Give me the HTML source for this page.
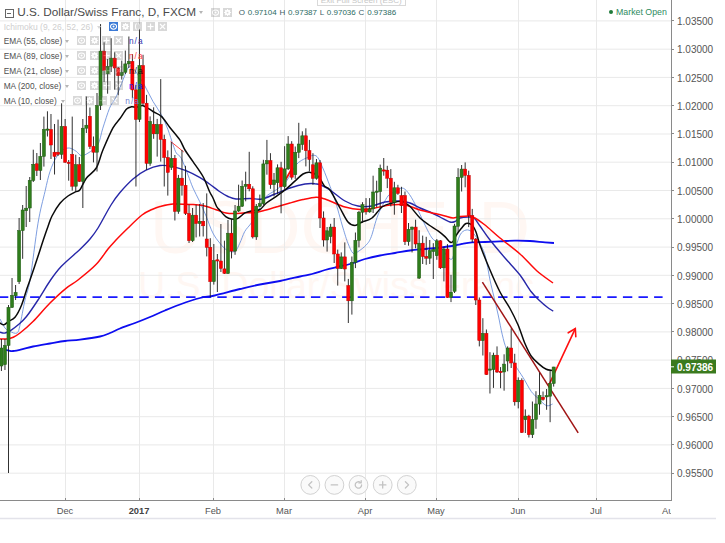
<!DOCTYPE html>
<html><head><meta charset="utf-8"><title>USDCHF</title>
<style>
html,body{margin:0;padding:0;background:#fff}
#w{position:relative;width:725px;height:543px;overflow:hidden;background:#fff;font-family:"Liberation Sans",Arial,sans-serif}
.ttl{position:absolute;left:0;top:0;height:20px;white-space:nowrap}
.box{position:absolute;left:4.5px;top:8.5px;width:7px;height:7px;border:1px solid #666;box-sizing:content-box;background:#fff}
.box:after{content:"";position:absolute;left:1.5px;right:1.5px;top:3px;height:1px;background:#666}
.tt{position:absolute;left:17.2px;top:5.4px;font-size:11.75px;color:#4a4a4a;line-height:14px;letter-spacing:0px}
.arr{position:absolute;width:0;height:0;border-left:2.6px solid transparent;border-right:2.6px solid transparent;border-top:3px solid #b5b5b5}
.arr.dis{border-top-color:#d8d8d8}
.ohlc{position:absolute;left:238.7px;top:7.2px;font-size:8.0px;line-height:11px;color:#2a6a62;white-space:nowrap;word-spacing:0.6px}
.ohlc .k{color:#3d5d66}
.tip{position:absolute;left:317px;top:-9.2px;width:86.5px;height:10px;padding-top:3px;border:1px solid #d9d9d9;background:#fff;color:#c6c6c6;font-size:8.1px;line-height:11px;text-align:center;white-space:nowrap;box-sizing:content-box}
.mo{position:absolute;left:616px;top:6.5px;font-size:8.8px;line-height:11px;color:#2e8b60;white-space:nowrap}
.dot{position:absolute;left:-7.2px;top:3.5px;width:4.4px;height:4.4px;border-radius:50%;background:#1f7a3a}
.row{position:absolute;left:0;height:14px;background:rgba(255,255,255,0.72)}
.lt{position:absolute;left:3.7px;font-size:8.3px;line-height:12px;color:#4f4f4f;white-space:nowrap}
.lt.dis{color:#cfcfcf}
.ib{position:absolute;width:9.1px;height:9.1px;display:block;opacity:.25}
.ib.act{opacity:1}
.ib.sm{width:7.5px;height:7.5px}
.ib.sm svg{width:7.5px;height:7.5px}
.ib svg{display:block}
.na{position:absolute;font-size:8.3px;line-height:12px;white-space:nowrap;letter-spacing:1px;margin-top:.5px}
</style></head><body><div id="w">
<svg width="725" height="543" viewBox="0 0 725 543" style="position:absolute;left:0;top:0" font-family="Liberation Sans, Arial, sans-serif">
<rect width="725" height="543" fill="#fff"/>
<g fill="#fff7f3"><text x="150" y="252.5" font-size="74" textLength="380" lengthAdjust="spacingAndGlyphs">USDCHF, D</text><text x="336" y="298" font-size="37.5" text-anchor="middle">U.S. Dollar/Swiss Franc</text></g>
<g stroke="#e9e9e9" stroke-width="1">
<line x1="0" x2="671" y1="20.9" y2="20.9"/>
<line x1="0" x2="671" y1="49.2" y2="49.2"/>
<line x1="0" x2="671" y1="77.4" y2="77.4"/>
<line x1="0" x2="671" y1="105.7" y2="105.7"/>
<line x1="0" x2="671" y1="134.0" y2="134.0"/>
<line x1="0" x2="671" y1="162.2" y2="162.2"/>
<line x1="0" x2="671" y1="190.5" y2="190.5"/>
<line x1="0" x2="671" y1="218.8" y2="218.8"/>
<line x1="0" x2="671" y1="247.1" y2="247.1"/>
<line x1="0" x2="671" y1="275.3" y2="275.3"/>
<line x1="0" x2="671" y1="303.6" y2="303.6"/>
<line x1="0" x2="671" y1="331.9" y2="331.9"/>
<line x1="0" x2="671" y1="360.1" y2="360.1"/>
<line x1="0" x2="671" y1="388.4" y2="388.4"/>
<line x1="0" x2="671" y1="416.7" y2="416.7"/>
<line x1="0" x2="671" y1="444.9" y2="444.9"/>
<line x1="0" x2="671" y1="473.2" y2="473.2"/>
<line x1="65.5" x2="65.5" y1="0" y2="501"/>
<line x1="139.5" x2="139.5" y1="0" y2="501"/>
<line x1="213.5" x2="213.5" y1="0" y2="501"/>
<line x1="284.5" x2="284.5" y1="0" y2="501"/>
<line x1="365.5" x2="365.5" y1="0" y2="501"/>
<line x1="436.5" x2="436.5" y1="0" y2="501"/>
<line x1="518.5" x2="518.5" y1="0" y2="501"/>
<line x1="596.5" x2="596.5" y1="0" y2="501"/>
</g>
<line x1="0" x2="662.6" y1="297.2" y2="297.2" stroke="#1a1aff" stroke-width="1.75" stroke-dasharray="9.4 6.2" stroke-dashoffset="1.1"/>
<path d="M0.0 319.0 C0.8 320.5 3.3 325.9 5.0 328.0 C6.7 330.1 8.0 330.7 10.0 331.5 C12.0 332.3 15.3 334.1 17.0 333.0 C18.7 331.9 18.7 330.5 20.0 325.0 C21.3 319.5 23.3 307.5 25.0 300.0 C26.7 292.5 27.8 292.8 30.0 280.0 C32.2 267.2 35.5 237.9 38.0 223.2 C40.5 208.4 43.0 200.1 45.0 191.5 C47.0 182.9 48.1 177.2 50.0 171.5 C51.9 165.8 54.3 160.6 56.5 157.0 C58.7 153.4 60.8 151.3 63.0 149.8 C65.2 148.3 67.5 147.8 69.7 148.1 C71.9 148.4 74.4 150.2 76.3 151.4 C78.2 152.7 79.3 155.3 81.3 155.6 C83.2 155.9 85.2 154.9 88.0 153.1 C90.8 151.3 95.3 149.0 97.8 144.8 C100.3 140.7 100.8 134.3 102.8 128.2 C104.8 122.1 107.6 113.0 109.5 108.3 C111.4 103.6 112.9 102.7 114.4 100.0 C115.9 97.3 116.6 96.1 118.3 92.0 C120.0 87.9 123.1 79.5 124.7 75.5 C126.3 71.5 127.0 69.6 128.0 68.0 C129.1 66.4 129.7 65.3 131.0 66.0 C132.3 66.7 133.7 68.7 136.0 72.0 C138.3 75.3 142.0 80.9 144.8 85.8 C147.6 90.7 150.2 96.7 153.0 101.5 C155.8 106.3 158.9 110.1 161.4 114.8 C163.9 119.5 166.1 124.7 168.0 129.7 C169.9 134.7 171.6 140.7 173.0 144.6 C174.4 148.5 174.9 150.7 176.3 153.0 C177.7 155.3 179.4 154.6 181.3 158.3 C183.2 162.0 186.1 170.1 188.0 175.0 C189.9 179.9 191.1 183.6 193.0 188.0 C194.9 192.4 197.4 196.7 199.6 201.4 C201.8 206.1 204.0 211.1 206.2 216.3 C208.4 221.6 210.5 228.4 212.8 232.9 C215.1 237.4 217.6 240.4 219.9 243.2 C222.2 246.0 224.0 248.4 226.5 249.8 C229.0 251.2 232.6 252.6 234.8 251.5 C237.0 250.4 238.2 246.5 239.8 243.2 C241.5 239.9 242.9 234.8 244.7 231.6 C246.5 228.4 248.4 227.0 250.5 224.1 C252.6 221.2 254.6 218.3 257.0 214.0 C259.4 209.7 261.5 202.1 264.7 198.0 C267.9 193.9 272.7 192.5 276.3 189.7 C279.9 186.9 283.0 185.6 286.3 181.4 C289.6 177.2 292.9 168.7 296.2 164.8 C299.5 160.9 302.9 159.6 306.2 158.1 C309.5 156.6 313.2 154.2 316.0 155.8 C318.8 157.5 320.5 162.9 322.8 168.0 C325.1 173.1 328.0 181.0 330.0 186.3 C332.0 191.6 332.8 193.1 335.0 200.0 C337.2 206.9 340.8 220.8 343.0 228.0 C345.2 235.2 346.3 239.1 348.0 243.3 C349.7 247.5 351.3 251.8 353.0 253.2 C354.7 254.6 355.8 253.0 358.0 251.6 C360.2 250.2 364.1 247.4 366.3 244.9 C368.5 242.4 369.4 241.6 371.3 236.6 C373.2 231.6 375.2 221.8 378.0 215.0 C380.8 208.2 385.2 199.8 388.0 196.0 C390.8 192.2 392.7 193.3 395.0 192.0 C397.3 190.7 399.8 187.9 402.0 188.0 C404.2 188.1 405.8 189.8 408.0 192.5 C410.2 195.2 412.2 198.6 415.0 204.0 C417.8 209.4 422.2 219.3 425.0 225.0 C427.8 230.7 429.8 235.0 432.0 238.0 C434.2 241.0 436.2 241.0 438.0 243.0 C439.8 245.0 441.3 247.7 443.0 250.0 C444.7 252.3 446.5 255.5 448.0 257.0 C449.5 258.5 450.8 260.2 452.0 259.0 C453.2 257.8 453.7 254.0 455.0 250.0 C456.3 246.0 458.2 238.3 460.0 235.0 C461.8 231.7 464.0 230.5 466.0 230.0 C468.0 229.5 470.0 230.3 472.0 232.0 C474.0 233.7 475.8 236.2 478.0 240.0 C480.2 243.8 483.0 248.3 485.0 255.0 C487.0 261.7 488.5 273.0 490.0 280.0 C491.5 287.0 492.6 291.2 494.0 297.0 C495.4 302.8 496.8 308.7 498.2 315.0 C499.6 321.3 500.9 329.2 502.3 334.8 C503.7 340.4 504.4 343.9 506.5 348.9 C508.6 353.9 512.0 359.9 514.8 364.6 C517.5 369.4 520.2 372.9 523.0 377.4 C525.8 381.9 528.8 388.0 531.3 391.5 C533.8 395.0 535.5 395.8 538.0 398.2 C540.5 400.6 543.9 404.6 546.3 405.6 C548.7 406.6 551.5 404.3 552.6 404.0" fill="none" stroke="#6f93dc" stroke-width="0.9"/>
<path d="M6.0 350.0 C6.5 350.1 7.8 350.4 9.0 350.6 C10.2 350.8 10.9 351.2 13.0 351.0 C15.1 350.8 18.3 350.1 21.6 349.3 C24.9 348.6 28.3 347.5 33.0 346.5 C37.7 345.5 44.7 344.4 50.0 343.5 C55.3 342.6 60.0 341.6 65.0 341.0 C70.0 340.4 74.2 340.4 80.0 339.6 C85.8 338.9 95.0 337.6 100.0 336.5 C105.0 335.4 106.7 334.3 110.0 333.0 C113.3 331.7 115.8 330.2 120.0 328.5 C124.2 326.8 130.0 324.9 135.0 323.0 C140.0 321.1 145.0 319.1 150.0 317.0 C155.0 314.9 160.0 312.6 165.0 310.5 C170.0 308.4 174.2 306.6 180.0 304.5 C185.8 302.4 194.2 299.5 200.0 298.0 C205.8 296.5 208.0 297.0 214.7 295.5 C221.4 294.0 232.4 290.8 240.0 289.0 C247.6 287.2 253.3 285.8 260.0 284.5 C266.7 283.2 273.3 282.3 280.0 281.0 C286.7 279.7 294.7 277.7 300.0 276.5 C305.3 275.3 307.8 275.1 312.0 274.0 C316.2 272.9 320.8 271.2 325.0 270.0 C329.2 268.8 332.8 268.0 337.0 267.0 C341.2 266.0 345.3 265.3 350.0 264.0 C354.7 262.7 360.0 260.4 365.0 259.0 C370.0 257.6 375.0 256.5 380.0 255.5 C385.0 254.5 390.0 253.8 395.0 253.0 C400.0 252.2 405.0 251.2 410.0 250.5 C415.0 249.8 420.0 249.5 425.0 249.0 C430.0 248.5 435.5 248.0 440.0 247.5 C444.5 247.0 448.3 246.6 452.0 246.0 C455.7 245.4 458.7 244.4 462.0 243.8 C465.3 243.2 468.2 242.6 472.0 242.3 C475.8 242.0 480.3 242.2 485.0 242.0 C489.7 241.8 495.0 241.5 500.0 241.3 C505.0 241.1 510.0 240.7 515.0 240.6 C520.0 240.5 525.0 240.7 530.0 241.0 C535.0 241.3 541.0 242.0 545.0 242.3 C549.0 242.6 552.5 242.9 554.0 243.0" fill="none" stroke="#0d0df0" stroke-width="1.8"/>
<path d="M0.0 332.2 C0.8 332.3 3.1 333.4 5.0 333.0 C6.9 332.6 9.4 331.2 11.6 329.8 C13.8 328.4 15.7 327.0 18.2 324.8 C20.7 322.6 23.2 320.6 26.5 316.5 C29.8 312.4 34.0 306.1 38.0 300.0 C42.0 293.9 46.7 285.6 50.6 280.0 C54.5 274.4 56.6 271.4 61.4 266.3 C66.2 261.2 74.8 254.2 79.6 249.7 C84.4 245.1 86.9 242.6 90.0 239.0 C93.1 235.4 94.5 233.7 98.0 228.0 C101.5 222.3 107.3 210.9 111.0 205.0 C114.7 199.1 116.3 196.8 120.0 192.5 C123.7 188.2 128.7 182.7 133.0 179.0 C137.3 175.3 141.5 172.4 146.0 170.2 C150.5 167.9 155.5 166.1 160.0 165.5 C164.5 164.9 168.7 165.7 173.0 166.6 C177.3 167.5 181.6 168.9 186.0 170.7 C190.4 172.5 195.7 175.2 199.6 177.4 C203.5 179.6 206.2 181.7 209.5 184.0 C212.8 186.3 216.4 189.4 219.5 191.5 C222.6 193.6 225.2 195.2 228.0 196.5 C230.8 197.8 232.3 198.7 236.0 199.0 C239.7 199.3 245.7 198.5 250.0 198.5 C254.3 198.5 257.8 199.8 262.0 199.0 C266.2 198.2 270.3 195.8 275.0 194.0 C279.7 192.2 285.0 189.7 290.0 188.0 C295.0 186.3 300.8 184.7 305.0 184.0 C309.2 183.3 312.2 183.4 315.0 183.7 C317.8 183.9 319.5 184.4 322.0 185.5 C324.5 186.6 326.2 187.4 330.0 190.0 C333.8 192.6 340.3 198.3 345.0 201.0 C349.7 203.7 353.5 205.2 358.0 206.0 C362.5 206.8 367.5 206.7 372.0 206.0 C376.5 205.3 380.3 202.8 385.0 202.0 C389.7 201.2 395.8 200.8 400.0 201.0 C404.2 201.2 406.7 201.8 410.0 203.0 C413.3 204.2 416.7 206.5 420.0 208.0 C423.3 209.5 426.7 210.5 430.0 212.0 C433.3 213.5 436.7 215.3 440.0 217.0 C443.3 218.7 447.5 221.2 450.0 222.0 C452.5 222.8 453.3 222.2 455.0 221.5 C456.7 220.8 457.8 218.8 460.0 218.0 C462.2 217.2 465.7 217.0 468.0 217.0 C470.3 217.0 472.0 216.5 474.0 218.0 C476.0 219.5 477.3 222.3 480.0 226.0 C482.7 229.7 485.8 234.7 490.0 240.0 C494.2 245.3 500.0 252.2 505.0 258.0 C510.0 263.8 515.7 269.4 520.0 275.0 C524.3 280.6 527.7 287.2 531.0 291.5 C534.3 295.8 537.3 298.4 540.0 301.0 C542.7 303.6 544.8 305.3 547.0 307.0 C549.2 308.7 552.2 310.5 553.2 311.2" fill="none" stroke="#2727a8" stroke-width="1.4"/>
<path d="M0.0 339.0 C1.1 339.0 4.4 339.2 6.6 338.9 C8.8 338.6 11.1 338.2 13.3 337.2 C15.5 336.2 16.7 335.6 20.0 333.0 C23.3 330.4 28.0 326.5 33.0 321.5 C38.0 316.5 44.5 308.5 50.0 303.0 C55.5 297.5 61.3 292.1 66.0 288.3 C70.7 284.5 73.0 283.9 78.0 280.0 C83.0 276.1 91.0 269.8 96.0 264.6 C101.0 259.4 104.7 253.1 108.0 249.0 C111.3 244.9 112.7 243.5 116.0 240.0 C119.3 236.5 123.7 232.2 128.0 228.0 C132.3 223.8 138.0 218.1 142.0 215.0 C146.0 211.9 149.0 210.9 152.0 209.5 C155.0 208.1 156.5 207.4 160.0 206.5 C163.5 205.6 168.0 204.3 173.0 204.0 C178.0 203.7 185.0 204.1 190.0 204.4 C195.0 204.7 198.7 204.7 203.0 205.6 C207.3 206.5 212.2 208.5 216.0 209.7 C219.8 210.9 222.8 212.3 226.0 213.0 C229.2 213.7 231.8 213.6 235.0 213.6 C238.2 213.6 241.5 213.0 245.0 212.8 C248.5 212.6 252.5 213.0 256.0 212.5 C259.5 212.0 262.3 211.0 266.0 210.0 C269.7 209.0 274.0 207.7 278.0 206.5 C282.0 205.3 285.8 204.2 290.0 203.0 C294.2 201.8 298.7 200.5 303.0 199.6 C307.3 198.7 312.7 197.5 316.0 197.3 C319.3 197.1 320.7 197.9 323.0 198.5 C325.3 199.1 326.3 199.6 330.0 201.0 C333.7 202.4 340.0 205.6 345.0 207.0 C350.0 208.4 355.0 209.3 360.0 209.5 C365.0 209.7 370.0 208.8 375.0 208.0 C380.0 207.2 385.0 205.5 390.0 205.0 C395.0 204.5 400.0 204.2 405.0 205.0 C410.0 205.8 415.0 208.6 420.0 210.0 C425.0 211.4 430.8 212.5 435.0 213.5 C439.2 214.5 442.0 215.2 445.0 216.0 C448.0 216.8 450.5 217.9 453.0 218.0 C455.5 218.1 457.2 216.8 460.0 216.5 C462.8 216.2 467.5 215.8 470.0 216.0 C472.5 216.2 472.5 216.5 475.0 218.0 C477.5 219.5 480.8 221.7 485.0 225.0 C489.2 228.3 494.2 233.2 500.0 238.0 C505.8 242.8 513.8 248.5 520.0 254.0 C526.2 259.5 531.5 266.2 537.0 271.0 C542.5 275.8 550.3 281.0 553.0 283.0" fill="none" stroke="#ff0a0a" stroke-width="1.5"/>
<path d="M0.0 323.0 C0.7 323.3 2.6 325.1 4.0 324.8 C5.4 324.6 6.5 322.8 8.3 321.5 C10.1 320.2 12.8 320.1 15.0 317.3 C17.2 314.6 19.7 309.6 21.6 305.0 C23.5 300.4 25.1 294.2 26.5 290.0 C27.9 285.8 28.1 285.6 30.0 280.0 C31.9 274.4 35.8 263.0 38.0 256.3 C40.2 249.6 41.6 245.0 43.3 240.0 C45.0 235.0 46.5 230.5 48.0 226.5 C49.5 222.5 50.0 219.9 52.0 216.0 C54.0 212.1 57.3 206.6 60.0 203.3 C62.7 200.0 65.3 197.9 68.0 196.0 C70.7 194.1 74.0 192.7 76.0 191.7 C78.0 190.7 78.3 192.1 80.0 189.8 C81.7 187.6 83.6 181.8 86.3 178.2 C89.0 174.6 93.5 172.7 96.3 168.0 C99.1 163.3 100.2 156.4 103.0 149.8 C105.8 143.2 110.0 133.4 112.8 128.2 C115.6 123.0 117.7 121.7 120.0 118.5 C122.3 115.3 124.7 111.0 126.6 109.0 C128.5 107.0 129.9 107.1 131.6 106.8 C133.2 106.5 134.6 107.5 136.5 107.3 C138.4 107.1 140.4 105.0 143.2 105.7 C145.9 106.4 150.0 109.7 153.0 111.5 C156.0 113.3 158.6 113.8 161.4 116.4 C164.2 119.0 166.6 123.3 169.7 127.2 C172.8 131.1 177.1 135.9 179.7 139.7 C182.2 143.5 182.8 146.3 185.0 150.0 C187.2 153.7 190.0 157.2 193.0 161.6 C196.0 166.0 200.2 171.5 203.0 176.5 C205.8 181.5 207.8 187.9 209.5 191.5 C211.2 195.1 211.8 195.5 213.0 198.0 C214.2 200.5 215.4 204.4 216.6 206.5 C217.8 208.6 218.5 208.8 220.0 210.5 C221.5 212.2 223.8 215.2 225.7 216.6 C227.6 218.0 229.4 218.8 231.5 219.1 C233.6 219.4 235.8 219.4 238.0 218.3 C240.2 217.2 242.5 214.1 245.0 212.8 C247.5 211.5 250.5 211.1 253.0 210.5 C255.5 209.9 257.8 210.8 260.0 209.5 C262.2 208.2 263.7 205.2 266.4 203.0 C269.1 200.8 273.0 198.7 276.3 196.3 C279.6 193.9 283.2 191.3 286.3 188.8 C289.4 186.3 291.8 183.9 294.6 181.4 C297.4 178.9 300.5 175.5 303.0 174.0 C305.5 172.5 307.0 171.9 309.5 172.2 C312.0 172.5 315.5 173.7 318.0 176.0 C320.5 178.3 322.4 183.7 324.4 186.0 C326.4 188.3 327.4 186.3 330.0 190.0 C332.6 193.7 337.0 202.7 340.0 208.0 C343.0 213.3 345.5 219.1 348.0 222.0 C350.5 224.9 352.7 225.5 355.0 225.5 C357.3 225.5 359.2 223.2 362.0 222.0 C364.8 220.8 368.7 220.5 372.0 218.0 C375.3 215.5 378.7 209.5 382.0 207.0 C385.3 204.5 388.7 203.9 392.0 203.0 C395.3 202.1 399.0 200.9 402.0 201.5 C405.0 202.1 407.0 203.8 410.0 206.5 C413.0 209.2 416.8 214.9 420.0 218.0 C423.2 221.1 426.0 222.9 429.0 225.0 C432.0 227.1 435.3 228.9 438.0 230.8 C440.7 232.7 443.0 234.7 445.0 236.6 C447.0 238.5 448.7 241.2 450.0 242.0 C451.3 242.8 451.9 242.8 453.0 241.6 C454.1 240.4 455.0 237.2 456.4 235.0 C457.8 232.8 459.8 230.2 461.4 228.3 C463.0 226.4 464.2 224.1 466.0 223.5 C467.8 222.9 470.3 223.6 472.0 225.0 C473.7 226.4 474.7 228.7 476.0 232.0 C477.3 235.3 477.7 238.7 480.0 245.0 C482.3 251.3 486.7 262.2 490.0 270.0 C493.3 277.8 496.7 285.6 500.0 292.0 C503.3 298.4 507.0 303.0 510.0 308.5 C513.0 314.0 515.5 319.1 518.0 324.8 C520.5 330.6 522.5 337.8 524.7 343.0 C526.9 348.2 528.8 352.7 531.3 356.3 C533.8 359.9 537.1 362.4 539.6 364.6 C542.1 366.8 544.2 368.3 546.3 369.3 C548.4 370.3 551.0 370.2 552.0 370.4" fill="none" stroke="#0a0a0a" stroke-width="1.5"/>
<line x1="170.5" y1="141.3" x2="183.8" y2="152" stroke="#ff3030" stroke-width="0.9"/>
<line x1="285.5" y1="179.7" x2="291.3" y2="169.7" stroke="#ff0a0a" stroke-width="1.8"/>
<line x1="482.4" y1="282.2" x2="578.2" y2="432.8" stroke="#a01414" stroke-width="1.5"/>
<g stroke="#ff1010" stroke-width="1.6" fill="none" stroke-linecap="round"><line x1="548.6" y1="385.7" x2="575.3" y2="328.6"/><polyline points="568.2,332.8 575.3,328.5 575.8,336.8"/></g>
<line x1="139.48" x2="139.48" y1="18.3" y2="29.5" stroke="#c8c8c8" stroke-width="0.9"/>
<g>
<line x1="1.42" x2="1.42" y1="339.0" y2="371.0" stroke="#1a1a1a" stroke-width="0.9"/>
<line x1="4.96" x2="4.96" y1="339.0" y2="370.0" stroke="#1a1a1a" stroke-width="0.9"/>
<line x1="8.50" x2="8.50" y1="305.0" y2="473.0" stroke="#1a1a1a" stroke-width="0.9"/>
<line x1="12.04" x2="12.04" y1="278.0" y2="308.0" stroke="#1a1a1a" stroke-width="0.9"/>
<line x1="15.58" x2="15.58" y1="285.0" y2="300.0" stroke="#1a1a1a" stroke-width="0.9"/>
<line x1="19.12" x2="19.12" y1="218.0" y2="284.0" stroke="#1a1a1a" stroke-width="0.9"/>
<line x1="22.66" x2="22.66" y1="205.0" y2="258.8" stroke="#1a1a1a" stroke-width="0.9"/>
<line x1="26.20" x2="26.20" y1="186.0" y2="227.0" stroke="#1a1a1a" stroke-width="0.9"/>
<line x1="29.74" x2="29.74" y1="177.0" y2="222.0" stroke="#1a1a1a" stroke-width="0.9"/>
<line x1="33.28" x2="33.28" y1="149.7" y2="182.0" stroke="#1a1a1a" stroke-width="0.9"/>
<line x1="36.82" x2="36.82" y1="153.0" y2="176.0" stroke="#1a1a1a" stroke-width="0.9"/>
<line x1="40.36" x2="40.36" y1="143.0" y2="180.0" stroke="#1a1a1a" stroke-width="0.9"/>
<line x1="43.90" x2="43.90" y1="116.6" y2="166.6" stroke="#1a1a1a" stroke-width="0.9"/>
<line x1="47.44" x2="47.44" y1="111.3" y2="136.5" stroke="#1a1a1a" stroke-width="0.9"/>
<line x1="50.98" x2="50.98" y1="114.0" y2="159.0" stroke="#1a1a1a" stroke-width="0.9"/>
<line x1="54.52" x2="54.52" y1="124.0" y2="174.5" stroke="#1a1a1a" stroke-width="0.9"/>
<line x1="58.06" x2="58.06" y1="119.6" y2="156.0" stroke="#1a1a1a" stroke-width="0.9"/>
<line x1="61.60" x2="61.60" y1="103.3" y2="158.9" stroke="#1a1a1a" stroke-width="0.9"/>
<line x1="65.14" x2="65.14" y1="119.0" y2="163.0" stroke="#1a1a1a" stroke-width="0.9"/>
<line x1="68.68" x2="68.68" y1="160.0" y2="180.7" stroke="#1a1a1a" stroke-width="0.9"/>
<line x1="72.22" x2="72.22" y1="116.6" y2="190.6" stroke="#1a1a1a" stroke-width="0.9"/>
<line x1="75.76" x2="75.76" y1="154.7" y2="191.5" stroke="#1a1a1a" stroke-width="0.9"/>
<line x1="79.30" x2="79.30" y1="157.0" y2="182.0" stroke="#1a1a1a" stroke-width="0.9"/>
<line x1="82.84" x2="82.84" y1="119.0" y2="208.0" stroke="#1a1a1a" stroke-width="0.9"/>
<line x1="86.38" x2="86.38" y1="96.5" y2="133.0" stroke="#1a1a1a" stroke-width="0.9"/>
<line x1="89.92" x2="89.92" y1="107.5" y2="149.0" stroke="#1a1a1a" stroke-width="0.9"/>
<line x1="93.46" x2="93.46" y1="136.5" y2="162.4" stroke="#1a1a1a" stroke-width="0.9"/>
<line x1="97.00" x2="97.00" y1="93.0" y2="171.5" stroke="#1a1a1a" stroke-width="0.9"/>
<line x1="100.54" x2="100.54" y1="24.1" y2="110.0" stroke="#1a1a1a" stroke-width="0.9"/>
<line x1="104.08" x2="104.08" y1="42.3" y2="82.0" stroke="#1a1a1a" stroke-width="0.9"/>
<line x1="107.62" x2="107.62" y1="59.0" y2="93.7" stroke="#1a1a1a" stroke-width="0.9"/>
<line x1="111.16" x2="111.16" y1="38.2" y2="72.0" stroke="#1a1a1a" stroke-width="0.9"/>
<line x1="114.70" x2="114.70" y1="52.3" y2="89.6" stroke="#1a1a1a" stroke-width="0.9"/>
<line x1="118.24" x2="118.24" y1="67.0" y2="95.4" stroke="#1a1a1a" stroke-width="0.9"/>
<line x1="121.78" x2="121.78" y1="60.6" y2="79.6" stroke="#1a1a1a" stroke-width="0.9"/>
<line x1="125.32" x2="125.32" y1="50.6" y2="74.0" stroke="#1a1a1a" stroke-width="0.9"/>
<line x1="128.86" x2="128.86" y1="36.5" y2="68.0" stroke="#1a1a1a" stroke-width="0.9"/>
<line x1="132.40" x2="132.40" y1="54.0" y2="98.2" stroke="#1a1a1a" stroke-width="0.9"/>
<line x1="135.94" x2="135.94" y1="85.0" y2="186.5" stroke="#1a1a1a" stroke-width="0.9"/>
<line x1="139.48" x2="139.48" y1="29.5" y2="122.0" stroke="#1a1a1a" stroke-width="0.9"/>
<line x1="143.02" x2="143.02" y1="54.8" y2="105.0" stroke="#1a1a1a" stroke-width="0.9"/>
<line x1="146.56" x2="146.56" y1="94.9" y2="169.9" stroke="#1a1a1a" stroke-width="0.9"/>
<line x1="150.10" x2="150.10" y1="116.4" y2="165.8" stroke="#1a1a1a" stroke-width="0.9"/>
<line x1="153.64" x2="153.64" y1="107.3" y2="138.8" stroke="#1a1a1a" stroke-width="0.9"/>
<line x1="157.18" x2="157.18" y1="118.9" y2="156.6" stroke="#1a1a1a" stroke-width="0.9"/>
<line x1="160.72" x2="160.72" y1="79.1" y2="161.6" stroke="#1a1a1a" stroke-width="0.9"/>
<line x1="164.26" x2="164.26" y1="134.7" y2="186.5" stroke="#1a1a1a" stroke-width="0.9"/>
<line x1="167.80" x2="167.80" y1="150.4" y2="195.6" stroke="#1a1a1a" stroke-width="0.9"/>
<line x1="171.34" x2="171.34" y1="142.0" y2="170.0" stroke="#1a1a1a" stroke-width="0.9"/>
<line x1="174.88" x2="174.88" y1="155.0" y2="220.5" stroke="#1a1a1a" stroke-width="0.9"/>
<line x1="178.42" x2="178.42" y1="174.9" y2="213.8" stroke="#1a1a1a" stroke-width="0.9"/>
<line x1="181.96" x2="181.96" y1="150.0" y2="195.6" stroke="#1a1a1a" stroke-width="0.9"/>
<line x1="185.50" x2="185.50" y1="165.8" y2="215.0" stroke="#1a1a1a" stroke-width="0.9"/>
<line x1="189.04" x2="189.04" y1="204.7" y2="243.0" stroke="#1a1a1a" stroke-width="0.9"/>
<line x1="192.58" x2="192.58" y1="208.0" y2="242.0" stroke="#1a1a1a" stroke-width="0.9"/>
<line x1="196.12" x2="196.12" y1="204.7" y2="237.4" stroke="#1a1a1a" stroke-width="0.9"/>
<line x1="199.66" x2="199.66" y1="203.9" y2="236.5" stroke="#1a1a1a" stroke-width="0.9"/>
<line x1="203.20" x2="203.20" y1="203.0" y2="236.5" stroke="#1a1a1a" stroke-width="0.9"/>
<line x1="206.74" x2="206.74" y1="193.4" y2="256.4" stroke="#1a1a1a" stroke-width="0.9"/>
<line x1="210.28" x2="210.28" y1="238.2" y2="297.0" stroke="#1a1a1a" stroke-width="0.9"/>
<line x1="213.82" x2="213.82" y1="244.0" y2="284.6" stroke="#1a1a1a" stroke-width="0.9"/>
<line x1="217.36" x2="217.36" y1="254.0" y2="292.0" stroke="#1a1a1a" stroke-width="0.9"/>
<line x1="220.90" x2="220.90" y1="224.0" y2="272.0" stroke="#1a1a1a" stroke-width="0.9"/>
<line x1="224.44" x2="224.44" y1="240.7" y2="274.0" stroke="#1a1a1a" stroke-width="0.9"/>
<line x1="227.98" x2="227.98" y1="220.0" y2="274.0" stroke="#1a1a1a" stroke-width="0.9"/>
<line x1="231.52" x2="231.52" y1="219.0" y2="258.4" stroke="#1a1a1a" stroke-width="0.9"/>
<line x1="235.06" x2="235.06" y1="205.0" y2="254.8" stroke="#1a1a1a" stroke-width="0.9"/>
<line x1="238.60" x2="238.60" y1="184.7" y2="212.0" stroke="#1a1a1a" stroke-width="0.9"/>
<line x1="242.14" x2="242.14" y1="180.5" y2="207.0" stroke="#1a1a1a" stroke-width="0.9"/>
<line x1="245.68" x2="245.68" y1="171.7" y2="201.3" stroke="#1a1a1a" stroke-width="0.9"/>
<line x1="249.22" x2="249.22" y1="151.8" y2="191.3" stroke="#1a1a1a" stroke-width="0.9"/>
<line x1="252.76" x2="252.76" y1="186.3" y2="238.5" stroke="#1a1a1a" stroke-width="0.9"/>
<line x1="256.30" x2="256.30" y1="204.0" y2="239.9" stroke="#1a1a1a" stroke-width="0.9"/>
<line x1="259.84" x2="259.84" y1="194.6" y2="207.0" stroke="#1a1a1a" stroke-width="0.9"/>
<line x1="263.38" x2="263.38" y1="159.8" y2="205.0" stroke="#1a1a1a" stroke-width="0.9"/>
<line x1="266.92" x2="266.92" y1="139.9" y2="174.7" stroke="#1a1a1a" stroke-width="0.9"/>
<line x1="270.46" x2="270.46" y1="153.2" y2="188.8" stroke="#1a1a1a" stroke-width="0.9"/>
<line x1="274.00" x2="274.00" y1="173.0" y2="196.3" stroke="#1a1a1a" stroke-width="0.9"/>
<line x1="277.54" x2="277.54" y1="164.4" y2="193.8" stroke="#1a1a1a" stroke-width="0.9"/>
<line x1="281.08" x2="281.08" y1="161.8" y2="213.3" stroke="#1a1a1a" stroke-width="0.9"/>
<line x1="284.62" x2="284.62" y1="146.2" y2="188.8" stroke="#1a1a1a" stroke-width="0.9"/>
<line x1="288.16" x2="288.16" y1="136.1" y2="170.0" stroke="#1a1a1a" stroke-width="0.9"/>
<line x1="291.70" x2="291.70" y1="141.2" y2="179.7" stroke="#1a1a1a" stroke-width="0.9"/>
<line x1="295.24" x2="295.24" y1="146.5" y2="178.9" stroke="#1a1a1a" stroke-width="0.9"/>
<line x1="298.78" x2="298.78" y1="122.8" y2="158.1" stroke="#1a1a1a" stroke-width="0.9"/>
<line x1="302.32" x2="302.32" y1="131.3" y2="149.9" stroke="#1a1a1a" stroke-width="0.9"/>
<line x1="305.86" x2="305.86" y1="128.3" y2="166.4" stroke="#1a1a1a" stroke-width="0.9"/>
<line x1="309.40" x2="309.40" y1="139.9" y2="171.4" stroke="#1a1a1a" stroke-width="0.9"/>
<line x1="312.94" x2="312.94" y1="153.2" y2="184.7" stroke="#1a1a1a" stroke-width="0.9"/>
<line x1="316.48" x2="316.48" y1="159.0" y2="179.7" stroke="#1a1a1a" stroke-width="0.9"/>
<line x1="320.02" x2="320.02" y1="160.0" y2="228.0" stroke="#1a1a1a" stroke-width="0.9"/>
<line x1="323.56" x2="323.56" y1="211.4" y2="246.6" stroke="#1a1a1a" stroke-width="0.9"/>
<line x1="327.10" x2="327.10" y1="227.0" y2="251.6" stroke="#1a1a1a" stroke-width="0.9"/>
<line x1="330.64" x2="330.64" y1="223.8" y2="243.3" stroke="#1a1a1a" stroke-width="0.9"/>
<line x1="334.18" x2="334.18" y1="218.0" y2="263.0" stroke="#1a1a1a" stroke-width="0.9"/>
<line x1="337.72" x2="337.72" y1="249.6" y2="285.6" stroke="#1a1a1a" stroke-width="0.9"/>
<line x1="341.26" x2="341.26" y1="252.4" y2="269.0" stroke="#1a1a1a" stroke-width="0.9"/>
<line x1="344.80" x2="344.80" y1="242.4" y2="281.4" stroke="#1a1a1a" stroke-width="0.9"/>
<line x1="348.34" x2="348.34" y1="278.9" y2="323.0" stroke="#1a1a1a" stroke-width="0.9"/>
<line x1="351.88" x2="351.88" y1="256.5" y2="314.6" stroke="#1a1a1a" stroke-width="0.9"/>
<line x1="355.42" x2="355.42" y1="232.5" y2="268.1" stroke="#1a1a1a" stroke-width="0.9"/>
<line x1="358.96" x2="358.96" y1="211.0" y2="247.4" stroke="#1a1a1a" stroke-width="0.9"/>
<line x1="362.50" x2="362.50" y1="202.2" y2="223.0" stroke="#1a1a1a" stroke-width="0.9"/>
<line x1="366.04" x2="366.04" y1="198.1" y2="214.7" stroke="#1a1a1a" stroke-width="0.9"/>
<line x1="369.58" x2="369.58" y1="198.1" y2="212.7" stroke="#1a1a1a" stroke-width="0.9"/>
<line x1="373.12" x2="373.12" y1="175.7" y2="213.0" stroke="#1a1a1a" stroke-width="0.9"/>
<line x1="376.66" x2="376.66" y1="180.7" y2="207.2" stroke="#1a1a1a" stroke-width="0.9"/>
<line x1="380.20" x2="380.20" y1="164.6" y2="208.0" stroke="#1a1a1a" stroke-width="0.9"/>
<line x1="383.74" x2="383.74" y1="158.0" y2="175.7" stroke="#1a1a1a" stroke-width="0.9"/>
<line x1="387.28" x2="387.28" y1="165.8" y2="188.1" stroke="#1a1a1a" stroke-width="0.9"/>
<line x1="390.82" x2="390.82" y1="169.1" y2="206.4" stroke="#1a1a1a" stroke-width="0.9"/>
<line x1="394.36" x2="394.36" y1="181.8" y2="214.7" stroke="#1a1a1a" stroke-width="0.9"/>
<line x1="397.90" x2="397.90" y1="184.8" y2="194.8" stroke="#1a1a1a" stroke-width="0.9"/>
<line x1="401.44" x2="401.44" y1="186.8" y2="213.0" stroke="#1a1a1a" stroke-width="0.9"/>
<line x1="404.98" x2="404.98" y1="191.5" y2="245.0" stroke="#1a1a1a" stroke-width="0.9"/>
<line x1="408.52" x2="408.52" y1="223.0" y2="245.7" stroke="#1a1a1a" stroke-width="0.9"/>
<line x1="412.06" x2="412.06" y1="226.6" y2="252.4" stroke="#1a1a1a" stroke-width="0.9"/>
<line x1="415.60" x2="415.60" y1="219.7" y2="248.2" stroke="#1a1a1a" stroke-width="0.9"/>
<line x1="419.14" x2="419.14" y1="230.2" y2="279.0" stroke="#1a1a1a" stroke-width="0.9"/>
<line x1="422.68" x2="422.68" y1="235.6" y2="264.0" stroke="#1a1a1a" stroke-width="0.9"/>
<line x1="426.22" x2="426.22" y1="236.8" y2="264.8" stroke="#1a1a1a" stroke-width="0.9"/>
<line x1="429.76" x2="429.76" y1="240.0" y2="264.0" stroke="#1a1a1a" stroke-width="0.9"/>
<line x1="433.30" x2="433.30" y1="243.2" y2="279.0" stroke="#1a1a1a" stroke-width="0.9"/>
<line x1="436.84" x2="436.84" y1="239.0" y2="259.8" stroke="#1a1a1a" stroke-width="0.9"/>
<line x1="440.38" x2="440.38" y1="240.0" y2="269.0" stroke="#1a1a1a" stroke-width="0.9"/>
<line x1="443.92" x2="443.92" y1="246.6" y2="281.4" stroke="#1a1a1a" stroke-width="0.9"/>
<line x1="447.46" x2="447.46" y1="244.1" y2="298.0" stroke="#1a1a1a" stroke-width="0.9"/>
<line x1="451.00" x2="451.00" y1="274.8" y2="302.1" stroke="#1a1a1a" stroke-width="0.9"/>
<line x1="454.54" x2="454.54" y1="223.8" y2="293.0" stroke="#1a1a1a" stroke-width="0.9"/>
<line x1="458.08" x2="458.08" y1="168.2" y2="233.0" stroke="#1a1a1a" stroke-width="0.9"/>
<line x1="461.62" x2="461.62" y1="165.0" y2="191.5" stroke="#1a1a1a" stroke-width="0.9"/>
<line x1="465.16" x2="465.16" y1="162.4" y2="187.3" stroke="#1a1a1a" stroke-width="0.9"/>
<line x1="468.70" x2="468.70" y1="170.7" y2="227.1" stroke="#1a1a1a" stroke-width="0.9"/>
<line x1="472.24" x2="472.24" y1="208.9" y2="242.4" stroke="#1a1a1a" stroke-width="0.9"/>
<line x1="475.78" x2="475.78" y1="238.0" y2="305.0" stroke="#1a1a1a" stroke-width="0.9"/>
<line x1="479.32" x2="479.32" y1="297.5" y2="346.4" stroke="#1a1a1a" stroke-width="0.9"/>
<line x1="482.86" x2="482.86" y1="318.2" y2="355.5" stroke="#1a1a1a" stroke-width="0.9"/>
<line x1="486.40" x2="486.40" y1="329.5" y2="375.0" stroke="#1a1a1a" stroke-width="0.9"/>
<line x1="489.94" x2="489.94" y1="352.2" y2="393.5" stroke="#1a1a1a" stroke-width="0.9"/>
<line x1="493.48" x2="493.48" y1="352.7" y2="387.9" stroke="#1a1a1a" stroke-width="0.9"/>
<line x1="497.02" x2="497.02" y1="346.4" y2="373.0" stroke="#1a1a1a" stroke-width="0.9"/>
<line x1="500.56" x2="500.56" y1="367.1" y2="388.2" stroke="#1a1a1a" stroke-width="0.9"/>
<line x1="504.10" x2="504.10" y1="354.3" y2="390.7" stroke="#1a1a1a" stroke-width="0.9"/>
<line x1="507.64" x2="507.64" y1="346.4" y2="371.3" stroke="#1a1a1a" stroke-width="0.9"/>
<line x1="511.18" x2="511.18" y1="328.5" y2="368.0" stroke="#1a1a1a" stroke-width="0.9"/>
<line x1="514.72" x2="514.72" y1="353.8" y2="405.6" stroke="#1a1a1a" stroke-width="0.9"/>
<line x1="518.26" x2="518.26" y1="377.4" y2="408.4" stroke="#1a1a1a" stroke-width="0.9"/>
<line x1="521.80" x2="521.80" y1="378.3" y2="433.0" stroke="#1a1a1a" stroke-width="0.9"/>
<line x1="525.34" x2="525.34" y1="409.4" y2="433.0" stroke="#1a1a1a" stroke-width="0.9"/>
<line x1="528.88" x2="528.88" y1="414.8" y2="437.5" stroke="#1a1a1a" stroke-width="0.9"/>
<line x1="532.42" x2="532.42" y1="401.5" y2="438.0" stroke="#1a1a1a" stroke-width="0.9"/>
<line x1="535.96" x2="535.96" y1="391.2" y2="428.8" stroke="#1a1a1a" stroke-width="0.9"/>
<line x1="539.50" x2="539.50" y1="372.5" y2="414.8" stroke="#1a1a1a" stroke-width="0.9"/>
<line x1="543.04" x2="543.04" y1="391.5" y2="400.7" stroke="#1a1a1a" stroke-width="0.9"/>
<line x1="546.58" x2="546.58" y1="389.0" y2="409.8" stroke="#1a1a1a" stroke-width="0.9"/>
<line x1="550.12" x2="550.12" y1="370.8" y2="422.2" stroke="#1a1a1a" stroke-width="0.9"/>
<line x1="553.66" x2="553.66" y1="366.8" y2="386.6" stroke="#1a1a1a" stroke-width="0.9"/>
<rect x="-0.13" y="348.0" width="3.1" height="18.0" fill="#2f7d1c" stroke="#1f5a12" stroke-width="0.5"/>
<rect x="3.41" y="345.5" width="3.1" height="19.1" fill="#2f7d1c" stroke="#1f5a12" stroke-width="0.5"/>
<rect x="6.95" y="307.4" width="3.1" height="38.1" fill="#2f7d1c" stroke="#1f5a12" stroke-width="0.5"/>
<rect x="10.49" y="295.3" width="3.1" height="12.1" fill="#2f7d1c" stroke="#1f5a12" stroke-width="0.5"/>
<rect x="14.03" y="292.4" width="3.1" height="3.4" fill="#2f7d1c" stroke="#1f5a12" stroke-width="0.5"/>
<rect x="17.57" y="230.6" width="3.1" height="51.1" fill="#2f7d1c" stroke="#1f5a12" stroke-width="0.5"/>
<rect x="21.11" y="210.0" width="3.1" height="20.6" fill="#2f7d1c" stroke="#1f5a12" stroke-width="0.5"/>
<rect x="24.65" y="208.2" width="3.1" height="2.5" fill="#2f7d1c" stroke="#1f5a12" stroke-width="0.5"/>
<rect x="28.19" y="180.4" width="3.1" height="27.6" fill="#2f7d1c" stroke="#1f5a12" stroke-width="0.5"/>
<rect x="31.73" y="164.3" width="3.1" height="16.1" fill="#2f7d1c" stroke="#1f5a12" stroke-width="0.5"/>
<rect x="35.27" y="163.8" width="3.1" height="6.7" fill="#ff0000" stroke="#c40000" stroke-width="0.5"/>
<rect x="38.81" y="156.4" width="3.1" height="14.1" fill="#2f7d1c" stroke="#1f5a12" stroke-width="0.5"/>
<rect x="42.35" y="129.5" width="3.1" height="26.9" fill="#2f7d1c" stroke="#1f5a12" stroke-width="0.5"/>
<rect x="45.89" y="129.0" width="3.1" height="1.2" fill="#2f7d1c" stroke="#1f5a12" stroke-width="0.5"/>
<rect x="49.43" y="129.5" width="3.1" height="15.5" fill="#ff0000" stroke="#c40000" stroke-width="0.5"/>
<rect x="52.97" y="152.2" width="3.1" height="4.2" fill="#ff0000" stroke="#c40000" stroke-width="0.5"/>
<rect x="56.51" y="152.2" width="3.1" height="2.2" fill="#ff0000" stroke="#c40000" stroke-width="0.5"/>
<rect x="60.05" y="126.5" width="3.1" height="27.9" fill="#2f7d1c" stroke="#1f5a12" stroke-width="0.5"/>
<rect x="63.59" y="126.5" width="3.1" height="35.7" fill="#ff0000" stroke="#c40000" stroke-width="0.5"/>
<rect x="67.13" y="162.2" width="3.1" height="1.3" fill="#ff0000" stroke="#c40000" stroke-width="0.5"/>
<rect x="70.67" y="154.4" width="3.1" height="31.8" fill="#ff0000" stroke="#c40000" stroke-width="0.5"/>
<rect x="74.21" y="164.7" width="3.1" height="21.5" fill="#2f7d1c" stroke="#1f5a12" stroke-width="0.5"/>
<rect x="77.75" y="164.7" width="3.1" height="16.6" fill="#ff0000" stroke="#c40000" stroke-width="0.5"/>
<rect x="81.29" y="128.2" width="3.1" height="53.1" fill="#2f7d1c" stroke="#1f5a12" stroke-width="0.5"/>
<rect x="84.83" y="125.2" width="3.1" height="3.0" fill="#2f7d1c" stroke="#1f5a12" stroke-width="0.5"/>
<rect x="88.37" y="116.3" width="3.1" height="30.1" fill="#ff0000" stroke="#c40000" stroke-width="0.5"/>
<rect x="91.91" y="146.4" width="3.1" height="5.8" fill="#ff0000" stroke="#c40000" stroke-width="0.5"/>
<rect x="95.45" y="105.5" width="3.1" height="46.7" fill="#2f7d1c" stroke="#1f5a12" stroke-width="0.5"/>
<rect x="98.99" y="51.1" width="3.1" height="54.4" fill="#2f7d1c" stroke="#1f5a12" stroke-width="0.5"/>
<rect x="102.53" y="51.1" width="3.1" height="19.4" fill="#ff0000" stroke="#c40000" stroke-width="0.5"/>
<rect x="106.07" y="66.4" width="3.1" height="7.4" fill="#2f7d1c" stroke="#1f5a12" stroke-width="0.5"/>
<rect x="109.61" y="58.1" width="3.1" height="8.3" fill="#2f7d1c" stroke="#1f5a12" stroke-width="0.5"/>
<rect x="113.15" y="58.1" width="3.1" height="9.9" fill="#ff0000" stroke="#c40000" stroke-width="0.5"/>
<rect x="116.69" y="68.0" width="3.1" height="7.5" fill="#ff0000" stroke="#c40000" stroke-width="0.5"/>
<rect x="120.23" y="72.2" width="3.1" height="3.3" fill="#2f7d1c" stroke="#1f5a12" stroke-width="0.5"/>
<rect x="123.77" y="63.9" width="3.1" height="8.3" fill="#2f7d1c" stroke="#1f5a12" stroke-width="0.5"/>
<rect x="127.31" y="61.4" width="3.1" height="2.5" fill="#2f7d1c" stroke="#1f5a12" stroke-width="0.5"/>
<rect x="130.85" y="61.4" width="3.1" height="28.5" fill="#ff0000" stroke="#c40000" stroke-width="0.5"/>
<rect x="134.39" y="89.9" width="3.1" height="29.5" fill="#ff0000" stroke="#c40000" stroke-width="0.5"/>
<rect x="137.93" y="65.6" width="3.1" height="53.8" fill="#2f7d1c" stroke="#1f5a12" stroke-width="0.5"/>
<rect x="141.47" y="65.6" width="3.1" height="37.6" fill="#ff0000" stroke="#c40000" stroke-width="0.5"/>
<rect x="145.01" y="103.2" width="3.1" height="60.1" fill="#ff0000" stroke="#c40000" stroke-width="0.5"/>
<rect x="148.55" y="121.4" width="3.1" height="41.9" fill="#2f7d1c" stroke="#1f5a12" stroke-width="0.5"/>
<rect x="152.09" y="124.4" width="3.1" height="9.4" fill="#ff0000" stroke="#c40000" stroke-width="0.5"/>
<rect x="155.63" y="124.4" width="3.1" height="9.4" fill="#2f7d1c" stroke="#1f5a12" stroke-width="0.5"/>
<rect x="159.17" y="124.4" width="3.1" height="14.9" fill="#ff0000" stroke="#c40000" stroke-width="0.5"/>
<rect x="162.71" y="139.3" width="3.1" height="18.2" fill="#ff0000" stroke="#c40000" stroke-width="0.5"/>
<rect x="166.25" y="157.5" width="3.1" height="14.9" fill="#ff0000" stroke="#c40000" stroke-width="0.5"/>
<rect x="169.79" y="158.3" width="3.1" height="9.1" fill="#2f7d1c" stroke="#1f5a12" stroke-width="0.5"/>
<rect x="173.33" y="158.3" width="3.1" height="53.1" fill="#ff0000" stroke="#c40000" stroke-width="0.5"/>
<rect x="176.87" y="178.2" width="3.1" height="33.2" fill="#2f7d1c" stroke="#1f5a12" stroke-width="0.5"/>
<rect x="180.41" y="178.2" width="3.1" height="7.1" fill="#ff0000" stroke="#c40000" stroke-width="0.5"/>
<rect x="183.95" y="185.3" width="3.1" height="28.2" fill="#ff0000" stroke="#c40000" stroke-width="0.5"/>
<rect x="187.49" y="213.5" width="3.1" height="27.2" fill="#ff0000" stroke="#c40000" stroke-width="0.5"/>
<rect x="191.03" y="215.2" width="3.1" height="25.5" fill="#2f7d1c" stroke="#1f5a12" stroke-width="0.5"/>
<rect x="194.57" y="215.2" width="3.1" height="8.3" fill="#ff0000" stroke="#c40000" stroke-width="0.5"/>
<rect x="198.11" y="221.3" width="3.1" height="2.2" fill="#2f7d1c" stroke="#1f5a12" stroke-width="0.5"/>
<rect x="201.65" y="221.3" width="3.1" height="4.5" fill="#ff0000" stroke="#c40000" stroke-width="0.5"/>
<rect x="205.19" y="239.0" width="3.1" height="8.3" fill="#ff0000" stroke="#c40000" stroke-width="0.5"/>
<rect x="208.73" y="247.3" width="3.1" height="34.3" fill="#ff0000" stroke="#c40000" stroke-width="0.5"/>
<rect x="212.27" y="260.6" width="3.1" height="21.0" fill="#2f7d1c" stroke="#1f5a12" stroke-width="0.5"/>
<rect x="215.81" y="259.8" width="3.1" height="1.2" fill="#ff0000" stroke="#c40000" stroke-width="0.5"/>
<rect x="219.35" y="261.0" width="3.1" height="7.4" fill="#ff0000" stroke="#c40000" stroke-width="0.5"/>
<rect x="222.89" y="268.9" width="3.1" height="4.5" fill="#ff0000" stroke="#c40000" stroke-width="0.5"/>
<rect x="226.43" y="233.2" width="3.1" height="40.2" fill="#2f7d1c" stroke="#1f5a12" stroke-width="0.5"/>
<rect x="229.97" y="233.2" width="3.1" height="17.9" fill="#ff0000" stroke="#c40000" stroke-width="0.5"/>
<rect x="233.51" y="211.0" width="3.1" height="40.1" fill="#2f7d1c" stroke="#1f5a12" stroke-width="0.5"/>
<rect x="237.05" y="206.2" width="3.1" height="4.8" fill="#2f7d1c" stroke="#1f5a12" stroke-width="0.5"/>
<rect x="240.59" y="186.3" width="3.1" height="19.9" fill="#2f7d1c" stroke="#1f5a12" stroke-width="0.5"/>
<rect x="244.13" y="184.3" width="3.1" height="2.0" fill="#2f7d1c" stroke="#1f5a12" stroke-width="0.5"/>
<rect x="247.67" y="184.3" width="3.1" height="4.5" fill="#ff0000" stroke="#c40000" stroke-width="0.5"/>
<rect x="251.21" y="188.8" width="3.1" height="48.1" fill="#ff0000" stroke="#c40000" stroke-width="0.5"/>
<rect x="254.75" y="206.2" width="3.1" height="30.7" fill="#2f7d1c" stroke="#1f5a12" stroke-width="0.5"/>
<rect x="258.29" y="203.7" width="3.1" height="2.5" fill="#2f7d1c" stroke="#1f5a12" stroke-width="0.5"/>
<rect x="261.83" y="163.9" width="3.1" height="39.8" fill="#2f7d1c" stroke="#1f5a12" stroke-width="0.5"/>
<rect x="265.37" y="160.6" width="3.1" height="3.3" fill="#2f7d1c" stroke="#1f5a12" stroke-width="0.5"/>
<rect x="268.91" y="160.6" width="3.1" height="24.1" fill="#ff0000" stroke="#c40000" stroke-width="0.5"/>
<rect x="272.45" y="180.0" width="3.1" height="4.7" fill="#2f7d1c" stroke="#1f5a12" stroke-width="0.5"/>
<rect x="275.99" y="167.8" width="3.1" height="14.9" fill="#2f7d1c" stroke="#1f5a12" stroke-width="0.5"/>
<rect x="279.53" y="167.8" width="3.1" height="18.9" fill="#ff0000" stroke="#c40000" stroke-width="0.5"/>
<rect x="283.07" y="168.9" width="3.1" height="17.8" fill="#2f7d1c" stroke="#1f5a12" stroke-width="0.5"/>
<rect x="286.61" y="144.0" width="3.1" height="24.9" fill="#2f7d1c" stroke="#1f5a12" stroke-width="0.5"/>
<rect x="290.15" y="144.0" width="3.1" height="33.2" fill="#ff0000" stroke="#c40000" stroke-width="0.5"/>
<rect x="293.69" y="152.3" width="3.1" height="22.4" fill="#2f7d1c" stroke="#1f5a12" stroke-width="0.5"/>
<rect x="297.23" y="144.0" width="3.1" height="8.3" fill="#2f7d1c" stroke="#1f5a12" stroke-width="0.5"/>
<rect x="300.77" y="135.8" width="3.1" height="8.7" fill="#2f7d1c" stroke="#1f5a12" stroke-width="0.5"/>
<rect x="304.31" y="135.8" width="3.1" height="14.9" fill="#ff0000" stroke="#c40000" stroke-width="0.5"/>
<rect x="307.85" y="150.7" width="3.1" height="8.8" fill="#ff0000" stroke="#c40000" stroke-width="0.5"/>
<rect x="311.39" y="164.8" width="3.1" height="13.6" fill="#ff0000" stroke="#c40000" stroke-width="0.5"/>
<rect x="314.93" y="162.8" width="3.1" height="15.6" fill="#2f7d1c" stroke="#1f5a12" stroke-width="0.5"/>
<rect x="318.47" y="162.8" width="3.1" height="55.2" fill="#ff0000" stroke="#c40000" stroke-width="0.5"/>
<rect x="322.01" y="218.0" width="3.1" height="22.0" fill="#ff0000" stroke="#c40000" stroke-width="0.5"/>
<rect x="325.55" y="230.8" width="3.1" height="9.2" fill="#2f7d1c" stroke="#1f5a12" stroke-width="0.5"/>
<rect x="329.09" y="227.1" width="3.1" height="9.5" fill="#2f7d1c" stroke="#1f5a12" stroke-width="0.5"/>
<rect x="332.63" y="227.1" width="3.1" height="26.9" fill="#ff0000" stroke="#c40000" stroke-width="0.5"/>
<rect x="336.17" y="254.0" width="3.1" height="14.5" fill="#ff0000" stroke="#c40000" stroke-width="0.5"/>
<rect x="339.71" y="256.9" width="3.1" height="11.6" fill="#2f7d1c" stroke="#1f5a12" stroke-width="0.5"/>
<rect x="343.25" y="256.9" width="3.1" height="12.1" fill="#ff0000" stroke="#c40000" stroke-width="0.5"/>
<rect x="346.79" y="285.6" width="3.1" height="15.2" fill="#ff0000" stroke="#c40000" stroke-width="0.5"/>
<rect x="350.33" y="262.3" width="3.1" height="38.5" fill="#2f7d1c" stroke="#1f5a12" stroke-width="0.5"/>
<rect x="353.87" y="240.3" width="3.1" height="22.0" fill="#2f7d1c" stroke="#1f5a12" stroke-width="0.5"/>
<rect x="357.41" y="212.2" width="3.1" height="28.1" fill="#2f7d1c" stroke="#1f5a12" stroke-width="0.5"/>
<rect x="360.95" y="204.7" width="3.1" height="7.5" fill="#2f7d1c" stroke="#1f5a12" stroke-width="0.5"/>
<rect x="364.49" y="208.9" width="3.1" height="3.0" fill="#ff0000" stroke="#c40000" stroke-width="0.5"/>
<rect x="368.03" y="208.9" width="3.1" height="3.0" fill="#2f7d1c" stroke="#1f5a12" stroke-width="0.5"/>
<rect x="371.57" y="192.0" width="3.1" height="16.9" fill="#2f7d1c" stroke="#1f5a12" stroke-width="0.5"/>
<rect x="375.11" y="191.1" width="3.1" height="1.2" fill="#2f7d1c" stroke="#1f5a12" stroke-width="0.5"/>
<rect x="378.65" y="168.2" width="3.1" height="23.3" fill="#2f7d1c" stroke="#1f5a12" stroke-width="0.5"/>
<rect x="382.19" y="169.9" width="3.1" height="1.2" fill="#ff0000" stroke="#c40000" stroke-width="0.5"/>
<rect x="385.73" y="170.2" width="3.1" height="8.0" fill="#ff0000" stroke="#c40000" stroke-width="0.5"/>
<rect x="389.27" y="178.2" width="3.1" height="24.0" fill="#ff0000" stroke="#c40000" stroke-width="0.5"/>
<rect x="392.81" y="187.8" width="3.1" height="14.4" fill="#2f7d1c" stroke="#1f5a12" stroke-width="0.5"/>
<rect x="396.35" y="187.8" width="3.1" height="5.6" fill="#ff0000" stroke="#c40000" stroke-width="0.5"/>
<rect x="399.89" y="195.6" width="3.1" height="10.0" fill="#ff0000" stroke="#c40000" stroke-width="0.5"/>
<rect x="403.43" y="195.6" width="3.1" height="46.1" fill="#ff0000" stroke="#c40000" stroke-width="0.5"/>
<rect x="406.97" y="229.3" width="3.1" height="12.4" fill="#2f7d1c" stroke="#1f5a12" stroke-width="0.5"/>
<rect x="410.51" y="227.1" width="3.1" height="2.2" fill="#2f7d1c" stroke="#1f5a12" stroke-width="0.5"/>
<rect x="414.05" y="227.1" width="3.1" height="16.9" fill="#ff0000" stroke="#c40000" stroke-width="0.5"/>
<rect x="417.59" y="243.2" width="3.1" height="34.9" fill="#2f7d1c" stroke="#1f5a12" stroke-width="0.5"/>
<rect x="421.13" y="243.2" width="3.1" height="13.3" fill="#ff0000" stroke="#c40000" stroke-width="0.5"/>
<rect x="424.67" y="256.5" width="3.1" height="1.7" fill="#ff0000" stroke="#c40000" stroke-width="0.5"/>
<rect x="428.21" y="250.7" width="3.1" height="7.5" fill="#2f7d1c" stroke="#1f5a12" stroke-width="0.5"/>
<rect x="431.75" y="249.5" width="3.1" height="2.0" fill="#2f7d1c" stroke="#1f5a12" stroke-width="0.5"/>
<rect x="435.29" y="240.8" width="3.1" height="14.9" fill="#2f7d1c" stroke="#1f5a12" stroke-width="0.5"/>
<rect x="438.83" y="240.8" width="3.1" height="27.0" fill="#ff0000" stroke="#c40000" stroke-width="0.5"/>
<rect x="442.37" y="249.0" width="3.1" height="18.8" fill="#2f7d1c" stroke="#1f5a12" stroke-width="0.5"/>
<rect x="445.91" y="249.0" width="3.1" height="48.5" fill="#ff0000" stroke="#c40000" stroke-width="0.5"/>
<rect x="449.45" y="292.2" width="3.1" height="5.3" fill="#2f7d1c" stroke="#1f5a12" stroke-width="0.5"/>
<rect x="452.99" y="226.0" width="3.1" height="65.3" fill="#2f7d1c" stroke="#1f5a12" stroke-width="0.5"/>
<rect x="456.53" y="177.4" width="3.1" height="48.9" fill="#2f7d1c" stroke="#1f5a12" stroke-width="0.5"/>
<rect x="460.07" y="169.1" width="3.1" height="8.3" fill="#2f7d1c" stroke="#1f5a12" stroke-width="0.5"/>
<rect x="463.61" y="169.1" width="3.1" height="6.3" fill="#ff0000" stroke="#c40000" stroke-width="0.5"/>
<rect x="467.15" y="175.4" width="3.1" height="40.1" fill="#ff0000" stroke="#c40000" stroke-width="0.5"/>
<rect x="470.69" y="215.5" width="3.1" height="23.6" fill="#ff0000" stroke="#c40000" stroke-width="0.5"/>
<rect x="474.23" y="239.1" width="3.1" height="60.9" fill="#ff0000" stroke="#c40000" stroke-width="0.5"/>
<rect x="477.77" y="300.0" width="3.1" height="40.6" fill="#ff0000" stroke="#c40000" stroke-width="0.5"/>
<rect x="481.31" y="333.4" width="3.1" height="7.2" fill="#2f7d1c" stroke="#1f5a12" stroke-width="0.5"/>
<rect x="484.85" y="333.4" width="3.1" height="41.2" fill="#ff0000" stroke="#c40000" stroke-width="0.5"/>
<rect x="488.39" y="369.0" width="3.1" height="1.2" fill="#2f7d1c" stroke="#1f5a12" stroke-width="0.5"/>
<rect x="491.93" y="355.2" width="3.1" height="14.4" fill="#2f7d1c" stroke="#1f5a12" stroke-width="0.5"/>
<rect x="495.47" y="355.2" width="3.1" height="16.8" fill="#ff0000" stroke="#c40000" stroke-width="0.5"/>
<rect x="499.01" y="371.3" width="3.1" height="1.3" fill="#ff0000" stroke="#c40000" stroke-width="0.5"/>
<rect x="502.55" y="364.1" width="3.1" height="7.9" fill="#2f7d1c" stroke="#1f5a12" stroke-width="0.5"/>
<rect x="506.09" y="348.0" width="3.1" height="13.0" fill="#2f7d1c" stroke="#1f5a12" stroke-width="0.5"/>
<rect x="509.63" y="348.0" width="3.1" height="15.0" fill="#ff0000" stroke="#c40000" stroke-width="0.5"/>
<rect x="513.17" y="363.0" width="3.1" height="38.8" fill="#ff0000" stroke="#c40000" stroke-width="0.5"/>
<rect x="516.71" y="380.3" width="3.1" height="21.5" fill="#2f7d1c" stroke="#1f5a12" stroke-width="0.5"/>
<rect x="520.25" y="380.3" width="3.1" height="52.2" fill="#ff0000" stroke="#c40000" stroke-width="0.5"/>
<rect x="523.79" y="416.1" width="3.1" height="3.6" fill="#2f7d1c" stroke="#1f5a12" stroke-width="0.5"/>
<rect x="527.33" y="416.1" width="3.1" height="18.6" fill="#ff0000" stroke="#c40000" stroke-width="0.5"/>
<rect x="530.87" y="419.4" width="3.1" height="15.3" fill="#2f7d1c" stroke="#1f5a12" stroke-width="0.5"/>
<rect x="534.41" y="404.0" width="3.1" height="15.4" fill="#2f7d1c" stroke="#1f5a12" stroke-width="0.5"/>
<rect x="537.95" y="395.3" width="3.1" height="8.7" fill="#2f7d1c" stroke="#1f5a12" stroke-width="0.5"/>
<rect x="541.49" y="397.3" width="3.1" height="2.2" fill="#ff0000" stroke="#c40000" stroke-width="0.5"/>
<rect x="545.03" y="395.7" width="3.1" height="1.2" fill="#2f7d1c" stroke="#1f5a12" stroke-width="0.5"/>
<rect x="548.57" y="383.6" width="3.1" height="12.6" fill="#2f7d1c" stroke="#1f5a12" stroke-width="0.5"/>
<rect x="552.11" y="367.0" width="3.1" height="16.6" fill="#2f7d1c" stroke="#1f5a12" stroke-width="0.5"/>
</g>
<g shape-rendering="crispEdges" stroke="#8a8a8a">
<line x1="671.5" x2="671.5" y1="0" y2="501"/>
<line x1="0" x2="672" y1="500.5" y2="500.5"/>
<line x1="672" x2="674" y1="20.5" y2="20.5"/>
<line x1="672" x2="674" y1="49.5" y2="49.5"/>
<line x1="672" x2="674" y1="77.5" y2="77.5"/>
<line x1="672" x2="674" y1="105.5" y2="105.5"/>
<line x1="672" x2="674" y1="133.5" y2="133.5"/>
<line x1="672" x2="674" y1="162.5" y2="162.5"/>
<line x1="672" x2="674" y1="190.5" y2="190.5"/>
<line x1="672" x2="674" y1="218.5" y2="218.5"/>
<line x1="672" x2="674" y1="247.5" y2="247.5"/>
<line x1="672" x2="674" y1="275.5" y2="275.5"/>
<line x1="672" x2="674" y1="303.5" y2="303.5"/>
<line x1="672" x2="674" y1="331.5" y2="331.5"/>
<line x1="672" x2="674" y1="360.5" y2="360.5"/>
<line x1="672" x2="674" y1="388.5" y2="388.5"/>
<line x1="672" x2="674" y1="416.5" y2="416.5"/>
<line x1="672" x2="674" y1="444.5" y2="444.5"/>
<line x1="672" x2="674" y1="473.5" y2="473.5"/>
<line x1="65.5" x2="65.5" y1="498" y2="501"/>
<line x1="139.5" x2="139.5" y1="498" y2="501"/>
<line x1="213.5" x2="213.5" y1="498" y2="501"/>
<line x1="284.5" x2="284.5" y1="498" y2="501"/>
<line x1="365.5" x2="365.5" y1="498" y2="501"/>
<line x1="436.5" x2="436.5" y1="498" y2="501"/>
<line x1="518.5" x2="518.5" y1="498" y2="501"/>
<line x1="596.5" x2="596.5" y1="498" y2="501"/>
</g>
<line x1="0" x2="716" y1="518.5" y2="518.5" stroke="#e3e3ea" stroke-width="1.4"/>
<g font-size="10" fill="#555">
<text x="677" y="25.0">1.03500</text>
<text x="677" y="53.2">1.03000</text>
<text x="677" y="81.5">1.02500</text>
<text x="677" y="109.8">1.02000</text>
<text x="677" y="138.1">1.01500</text>
<text x="677" y="166.3">1.01000</text>
<text x="677" y="194.6">1.00500</text>
<text x="677" y="222.9">1.00000</text>
<text x="677" y="251.2">0.99500</text>
<text x="677" y="279.5">0.99000</text>
<text x="677" y="307.8">0.98500</text>
<text x="677" y="336.0">0.98000</text>
<text x="677" y="364.3">0.97500</text>
<text x="677" y="392.6">0.97000</text>
<text x="677" y="420.9">0.96500</text>
<text x="677" y="449.2">0.96000</text>
<text x="677" y="477.4">0.95500</text>
</g>
<rect x="671" y="359.5" width="45" height="14" fill="#3a7a1e"/><line x1="671" x2="674" y1="366.8" y2="366.8" stroke="#fff" stroke-width="1"/>
<text x="677" y="370.6" font-size="10" font-weight="bold" fill="#fff">0.97386</text>
<g font-size="9.3" fill="#555" text-anchor="middle">
<text x="65" y="513.6">Dec</text>
<text x="139" y="513.6" font-weight="bold" fill="#444">2017</text>
<text x="213" y="513.6">Feb</text>
<text x="284" y="513.6">Mar</text>
<text x="365" y="513.6">Apr</text>
<text x="436" y="513.6">May</text>
<text x="518" y="513.6">Jun</text>
<text x="596" y="513.6">Jul</text>
</g>
<svg x="0" y="500" width="671" height="20" overflow="hidden"><text x="662" y="13.6" font-size="9.3" fill="#555">Aug</text></svg>
<g stroke="#d2d2d2" fill="#f9f9f9" stroke-width="1">
<circle cx="310.3" cy="484.9" r="9.4" fill-opacity="0.85"/>
<circle cx="334.4" cy="484.9" r="9.4" fill-opacity="0.85"/>
<circle cx="358.5" cy="484.9" r="9.4" fill-opacity="0.85"/>
<circle cx="382.7" cy="484.9" r="9.4" fill-opacity="0.85"/>
<circle cx="406.8" cy="484.9" r="9.4" fill-opacity="0.85"/>
</g>
<g stroke="#c2c2c2" stroke-width="1.3" fill="none" stroke-linecap="round" stroke-linejoin="round">
<polyline points="311.8,481.8 308.6,484.9 311.8,488"/>
<line x1="331.2" x2="337.6" y1="484.9" y2="484.9"/>
<path d="M361.6 484.9a3.2 3.2 0 1 1 -1.2 -2.5"/><polyline points="361.2,480.6 361.2,482.9 358.9,482.9"/>
<line x1="379.5" x2="385.9" y1="484.9" y2="484.9"/><line x1="382.7" x2="382.7" y1="481.7" y2="488.1"/>
<polyline points="405.4,481.8 408.6,484.9 405.4,488"/>
</g>
</svg>
<div class="ttl"><span class="box"></span><span class="tt">U.S. Dollar/Swiss Franc, D, FXCM</span><span class="arr" style="left:199px;top:11px"></span></div>
<span class="ib" style="left:210.8px;top:7.7px;background:#666"><svg width="9.1" height="9.1" viewBox="0 0 9 9"><ellipse cx="4.5" cy="4.5" rx="3" ry="2.6" fill="none" stroke="#fff" stroke-width="1"/><circle cx="4.5" cy="4.5" r="1" fill="#fff"/></svg></span><span class="ib" style="left:222.9px;top:7.7px;background:#666"><svg width="9.1" height="9.1" viewBox="0 0 9 9"><circle cx="4.5" cy="4.5" r="2" fill="none" stroke="#fff" stroke-width="1.3"/><g stroke="#fff" stroke-width="1"><line x1="4.5" y1="1" x2="4.5" y2="8"/><line x1="1" y1="4.5" x2="8" y2="4.5"/><line x1="2" y1="2" x2="7" y2="7"/><line x1="7" y1="2" x2="2" y2="7"/></g><circle cx="4.5" cy="4.5" r="0.9" fill="#666"/></svg></span>
<div class="ohlc"><span class="k">O</span> 0.97104 <span class="k">H</span> 0.97387 <span class="k">L</span> 0.97036 <span class="k">C</span> 0.97386</div>
<div class="tip">Exit Full Screen (ESC)</div>
<div class="mo"><span class="dot"></span>Market Open</div>
<div class="lt dis" style="top:20.8px;font-size:8.5px">Ichimoku (9, 26, 52, 26)</div><span class="arr dis" style="left:97px;top:25.8px"></span>
<span class="ib act" style="left:108.9px;top:22.3px;background:#3b7ad6"><svg width="9.1" height="9.1" viewBox="0 0 9 9"><ellipse cx="4.5" cy="4.5" rx="3" ry="2.6" fill="none" stroke="#fff" stroke-width="1"/><circle cx="4.5" cy="4.5" r="1" fill="#fff"/></svg></span><span class="ib" style="left:121.1px;top:22.3px;background:#666"><svg width="9.1" height="9.1" viewBox="0 0 9 9"><circle cx="4.5" cy="4.5" r="2" fill="none" stroke="#fff" stroke-width="1.3"/><g stroke="#fff" stroke-width="1"><line x1="4.5" y1="1" x2="4.5" y2="8"/><line x1="1" y1="4.5" x2="8" y2="4.5"/><line x1="2" y1="2" x2="7" y2="7"/><line x1="7" y1="2" x2="2" y2="7"/></g><circle cx="4.5" cy="4.5" r="0.9" fill="#666"/></svg></span><span class="ib" style="left:133.3px;top:22.3px;background:#666"><svg width="9.1" height="9.1" viewBox="0 0 9 9"><path d="M3.6 1.5C2.4 2 2.4 3.6 2.4 4.5S2.4 7 3.6 7.5M5.4 1.5C6.6 2 6.6 3.6 6.6 4.5S6.6 7 5.4 7.5" fill="none" stroke="#fff" stroke-width="1"/></svg></span><span class="ib" style="left:145.5px;top:22.3px;background:#666"><svg width="9.1" height="9.1" viewBox="0 0 9 9"><g stroke="#fff" stroke-width="1.2"><line x1="4.5" y1="1.5" x2="4.5" y2="7.5"/><line x1="1.5" y1="4.5" x2="7.5" y2="4.5"/></g></svg></span><span class="ib" style="left:157.7px;top:22.3px;background:#666"><svg width="9.1" height="9.1" viewBox="0 0 9 9"><g stroke="#fff" stroke-width="1.2"><line x1="2" y1="2" x2="7" y2="7"/><line x1="7" y1="2" x2="2" y2="7"/></g></svg></span>
<div class="lt" style="top:34.9px">EMA (55, close)</div><span class="arr" style="left:65.0px;top:39.9px"></span>
<span class="ib" style="left:77.4px;top:36.4px;background:#666"><svg width="9.1" height="9.1" viewBox="0 0 9 9"><ellipse cx="4.5" cy="4.5" rx="3" ry="2.6" fill="none" stroke="#fff" stroke-width="1"/><circle cx="4.5" cy="4.5" r="1" fill="#fff"/></svg></span><span class="ib" style="left:89.6px;top:36.4px;background:#666"><svg width="9.1" height="9.1" viewBox="0 0 9 9"><circle cx="4.5" cy="4.5" r="2" fill="none" stroke="#fff" stroke-width="1.3"/><g stroke="#fff" stroke-width="1"><line x1="4.5" y1="1" x2="4.5" y2="8"/><line x1="1" y1="4.5" x2="8" y2="4.5"/><line x1="2" y1="2" x2="7" y2="7"/><line x1="7" y1="2" x2="2" y2="7"/></g><circle cx="4.5" cy="4.5" r="0.9" fill="#666"/></svg></span><span class="ib" style="left:101.8px;top:36.4px;background:#666"><svg width="9.1" height="9.1" viewBox="0 0 9 9"><g stroke="#fff" stroke-width="1.2"><line x1="4.5" y1="1.5" x2="4.5" y2="7.5"/><line x1="1.5" y1="4.5" x2="7.5" y2="4.5"/></g></svg></span><span class="ib" style="left:114.0px;top:36.4px;background:#666"><svg width="9.1" height="9.1" viewBox="0 0 9 9"><g stroke="#fff" stroke-width="1.2"><line x1="2" y1="2" x2="7" y2="7"/><line x1="7" y1="2" x2="2" y2="7"/></g></svg></span>
<div class="na" style="left:129.0px;top:34.9px;color:#3535b0">n/a</div>
<div class="lt" style="top:49.8px">EMA (89, close)</div><span class="arr" style="left:65.0px;top:54.8px"></span>
<span class="ib" style="left:77.4px;top:51.2px;background:#666"><svg width="9.1" height="9.1" viewBox="0 0 9 9"><ellipse cx="4.5" cy="4.5" rx="3" ry="2.6" fill="none" stroke="#fff" stroke-width="1"/><circle cx="4.5" cy="4.5" r="1" fill="#fff"/></svg></span><span class="ib" style="left:89.6px;top:51.2px;background:#666"><svg width="9.1" height="9.1" viewBox="0 0 9 9"><circle cx="4.5" cy="4.5" r="2" fill="none" stroke="#fff" stroke-width="1.3"/><g stroke="#fff" stroke-width="1"><line x1="4.5" y1="1" x2="4.5" y2="8"/><line x1="1" y1="4.5" x2="8" y2="4.5"/><line x1="2" y1="2" x2="7" y2="7"/><line x1="7" y1="2" x2="2" y2="7"/></g><circle cx="4.5" cy="4.5" r="0.9" fill="#666"/></svg></span><span class="ib" style="left:101.8px;top:51.2px;background:#666"><svg width="9.1" height="9.1" viewBox="0 0 9 9"><g stroke="#fff" stroke-width="1.2"><line x1="4.5" y1="1.5" x2="4.5" y2="7.5"/><line x1="1.5" y1="4.5" x2="7.5" y2="4.5"/></g></svg></span><span class="ib" style="left:114.0px;top:51.2px;background:#666"><svg width="9.1" height="9.1" viewBox="0 0 9 9"><g stroke="#fff" stroke-width="1.2"><line x1="2" y1="2" x2="7" y2="7"/><line x1="7" y1="2" x2="2" y2="7"/></g></svg></span>
<div class="na" style="left:129.0px;top:49.8px;color:#ff3a3a">n/a</div>
<div class="lt" style="top:64.7px">EMA (21, close)</div><span class="arr" style="left:65.0px;top:69.7px"></span>
<span class="ib" style="left:77.4px;top:66.2px;background:#666"><svg width="9.1" height="9.1" viewBox="0 0 9 9"><ellipse cx="4.5" cy="4.5" rx="3" ry="2.6" fill="none" stroke="#fff" stroke-width="1"/><circle cx="4.5" cy="4.5" r="1" fill="#fff"/></svg></span><span class="ib" style="left:89.6px;top:66.2px;background:#666"><svg width="9.1" height="9.1" viewBox="0 0 9 9"><circle cx="4.5" cy="4.5" r="2" fill="none" stroke="#fff" stroke-width="1.3"/><g stroke="#fff" stroke-width="1"><line x1="4.5" y1="1" x2="4.5" y2="8"/><line x1="1" y1="4.5" x2="8" y2="4.5"/><line x1="2" y1="2" x2="7" y2="7"/><line x1="7" y1="2" x2="2" y2="7"/></g><circle cx="4.5" cy="4.5" r="0.9" fill="#666"/></svg></span><span class="ib" style="left:101.8px;top:66.2px;background:#666"><svg width="9.1" height="9.1" viewBox="0 0 9 9"><g stroke="#fff" stroke-width="1.2"><line x1="4.5" y1="1.5" x2="4.5" y2="7.5"/><line x1="1.5" y1="4.5" x2="7.5" y2="4.5"/></g></svg></span><span class="ib" style="left:114.0px;top:66.2px;background:#666"><svg width="9.1" height="9.1" viewBox="0 0 9 9"><g stroke="#fff" stroke-width="1.2"><line x1="2" y1="2" x2="7" y2="7"/><line x1="7" y1="2" x2="2" y2="7"/></g></svg></span>
<div class="na" style="left:129.0px;top:64.7px;color:#111">n/a</div>
<div class="lt" style="top:79.6px">MA (200, close)</div><span class="arr" style="left:65.0px;top:84.6px"></span>
<span class="ib" style="left:77.4px;top:81.0px;background:#666"><svg width="9.1" height="9.1" viewBox="0 0 9 9"><ellipse cx="4.5" cy="4.5" rx="3" ry="2.6" fill="none" stroke="#fff" stroke-width="1"/><circle cx="4.5" cy="4.5" r="1" fill="#fff"/></svg></span><span class="ib" style="left:89.6px;top:81.0px;background:#666"><svg width="9.1" height="9.1" viewBox="0 0 9 9"><circle cx="4.5" cy="4.5" r="2" fill="none" stroke="#fff" stroke-width="1.3"/><g stroke="#fff" stroke-width="1"><line x1="4.5" y1="1" x2="4.5" y2="8"/><line x1="1" y1="4.5" x2="8" y2="4.5"/><line x1="2" y1="2" x2="7" y2="7"/><line x1="7" y1="2" x2="2" y2="7"/></g><circle cx="4.5" cy="4.5" r="0.9" fill="#666"/></svg></span><span class="ib" style="left:101.8px;top:81.0px;background:#666"><svg width="9.1" height="9.1" viewBox="0 0 9 9"><g stroke="#fff" stroke-width="1.2"><line x1="4.5" y1="1.5" x2="4.5" y2="7.5"/><line x1="1.5" y1="4.5" x2="7.5" y2="4.5"/></g></svg></span><span class="ib" style="left:114.0px;top:81.0px;background:#666"><svg width="9.1" height="9.1" viewBox="0 0 9 9"><g stroke="#fff" stroke-width="1.2"><line x1="2" y1="2" x2="7" y2="7"/><line x1="7" y1="2" x2="2" y2="7"/></g></svg></span>
<div class="na" style="left:129.0px;top:79.6px;color:#1515ff">n/a</div>
<div class="lt" style="top:94.5px">MA (10, close)</div><span class="arr" style="left:60.8px;top:99.5px"></span>
<span class="ib" style="left:73.2px;top:96.0px;background:#666"><svg width="9.1" height="9.1" viewBox="0 0 9 9"><ellipse cx="4.5" cy="4.5" rx="3" ry="2.6" fill="none" stroke="#fff" stroke-width="1"/><circle cx="4.5" cy="4.5" r="1" fill="#fff"/></svg></span><span class="ib" style="left:85.4px;top:96.0px;background:#666"><svg width="9.1" height="9.1" viewBox="0 0 9 9"><circle cx="4.5" cy="4.5" r="2" fill="none" stroke="#fff" stroke-width="1.3"/><g stroke="#fff" stroke-width="1"><line x1="4.5" y1="1" x2="4.5" y2="8"/><line x1="1" y1="4.5" x2="8" y2="4.5"/><line x1="2" y1="2" x2="7" y2="7"/><line x1="7" y1="2" x2="2" y2="7"/></g><circle cx="4.5" cy="4.5" r="0.9" fill="#666"/></svg></span><span class="ib" style="left:97.6px;top:96.0px;background:#666"><svg width="9.1" height="9.1" viewBox="0 0 9 9"><g stroke="#fff" stroke-width="1.2"><line x1="4.5" y1="1.5" x2="4.5" y2="7.5"/><line x1="1.5" y1="4.5" x2="7.5" y2="4.5"/></g></svg></span><span class="ib" style="left:109.8px;top:96.0px;background:#666"><svg width="9.1" height="9.1" viewBox="0 0 9 9"><g stroke="#fff" stroke-width="1.2"><line x1="2" y1="2" x2="7" y2="7"/><line x1="7" y1="2" x2="2" y2="7"/></g></svg></span>
<div class="na" style="left:125.3px;top:94.5px;color:#6f7fd0">n/a</div>
</div></body></html>
